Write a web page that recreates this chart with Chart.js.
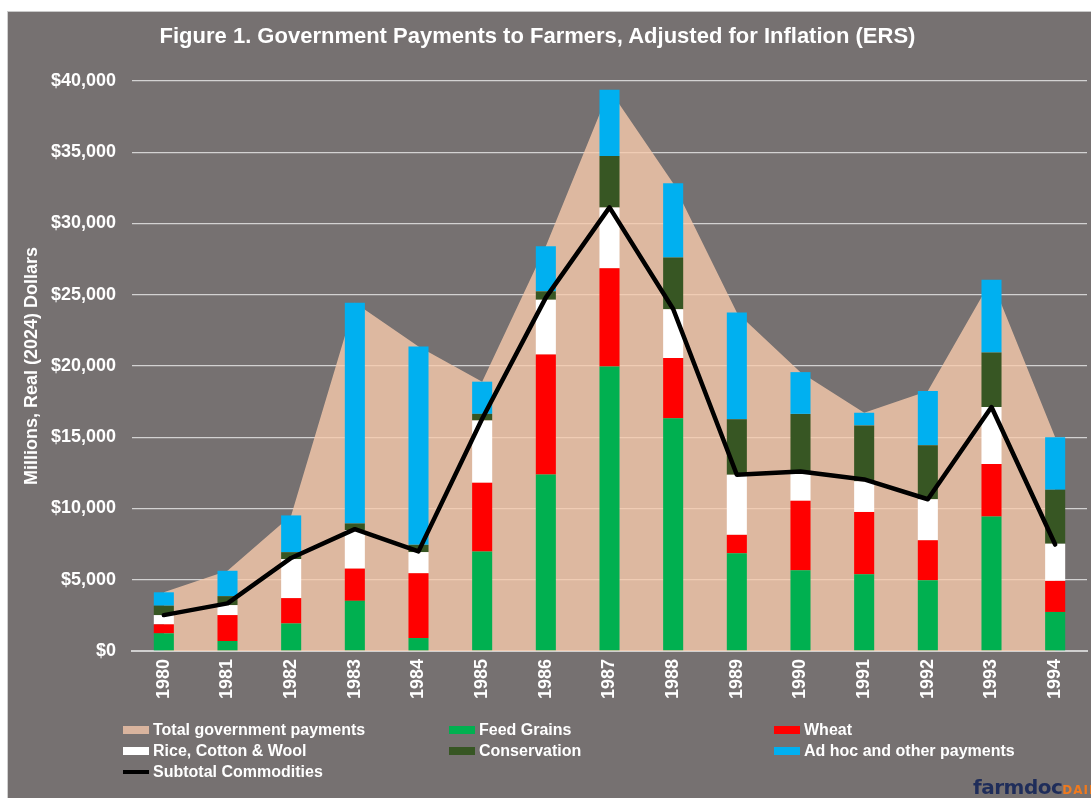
<!DOCTYPE html>
<html>
<head>
<meta charset="utf-8">
<script src="https://cdn.jsdelivr.net/npm/chart.js@4.4.1/dist/chart.umd.min.js"></script>
<style>
  html, body { margin: 0; padding: 0; background: #ffffff; width: 1091px; height: 798px; overflow: hidden; }
  #panel { position: absolute; left: 7px; top: 11px; width: 1084px; height: 787px; background: #767171;
           border-top: 1px solid #c9c9c9; border-left: 1px solid #d0d0d0; box-sizing: border-box; }
  #chart { position: absolute; left: 0; top: 0; }
  #title { position: absolute; left: 0; width: 1075px; top: 23px; text-align: center; color: #ffffff;
           font: bold 22px "Liberation Sans", Arial, sans-serif; white-space: nowrap; }
  #legend { position: absolute; left: 0; top: 0; font: bold 16px "Liberation Sans", Arial, sans-serif; color: #ffffff; }
  .item { position: absolute; white-space: nowrap; line-height: 18px; height: 18px; }
  .sw { position: absolute; left: 0; top: 5px; width: 26px; height: 8px; }
  .sw.line { top: 7px; height: 4px; }
  .lbl { position: absolute; left: 30px; top: 0; }
  #logo { position: absolute; left: 973px; top: 775px; white-space: nowrap; }
  #logo .a { font: bold 20px "DejaVu Sans", sans-serif; color: #1f2d5a; letter-spacing: -0.5px; }
  #logo .b { font: bold 12px "DejaVu Sans", sans-serif; color: #f07a1e; letter-spacing: 1px; }
</style>
</head>
<body>
<div id="panel"></div>
<canvas id="chart" width="1091" height="798"></canvas>
<div id="title">Figure 1. Government Payments to Farmers, Adjusted for Inflation (ERS)</div>
<div id="legend"></div>
<div id="logo"><span class="a">farmdoc</span><span class="b">DAILY</span></div>
<script>
// ---- Data (millions of real 2024 dollars) ----
const years = ['1980','1981','1982','1983','1984','1985','1986','1987','1988','1989','1990','1991','1992','1993','1994'];
const feedGrains   = [1240,  700, 1935, 3520,   910,  6990, 12390, 19970, 16340, 6860, 5670, 5380, 4970, 9440, 2740];
const wheat        = [ 630, 1820, 1775, 2260,  4550,  4810,  8420,  6890,  4220, 1290, 4870, 4380, 2800, 3680, 2180];
const riceCotton   = [ 650,  700, 2740, 2690,  1480,  4380,  3840,  4270,  3420, 4220, 2060, 2150, 2880, 4000, 2610];
const conservation = [ 660,  630,  485,  480,   510,   460,   590,  3600,  3630, 3890, 4040, 3920, 3790, 3820, 3790];
const adHoc        = [ 940, 1780, 2580, 15485, 13920, 2260,  3170,  4650,  5210, 7500, 2930,  890, 3810, 5110, 3680];
const totalPayments = [4120, 5630, 9515, 24435, 21370, 18900, 28410, 39380, 32820, 23760, 19570, 16720, 18250, 26050, 15000];
const subtotalCommodities = [2520, 3340, 6530, 8550, 6990, 16300, 24800, 31130, 24000, 12370, 12600, 12040, 10650, 17120, 7470];
const yTicks = [0, 5000, 10000, 15000, 20000, 25000, 30000, 35000, 40000];

const FONT = '"Liberation Sans", Arial, sans-serif';
const colors = {
  total: 'rgba(248,203,173,0.80)', totalSwatch: '#d9b49e',
  feed: '#00b050', wheat: '#ff0000', rice: '#ffffff', cons: '#375623', adhoc: '#00b0f0', sub: '#000000'
};

function bar(label, data, color) {
  return { type: 'bar', label, data, backgroundColor: color, borderWidth: 0, stack: 'bars', order: 2,
           barPercentage: 0.315, categoryPercentage: 1.0 };
}

const datasets = [
  { type: 'line', label: 'Total government payments', data: totalPayments, stack: 'area', order: 3,
    fill: 'origin', backgroundColor: colors.total, borderWidth: 0, borderColor: 'rgba(0,0,0,0)',
    pointRadius: 0, tension: 0 },
  bar('Feed Grains', feedGrains, colors.feed),
  bar('Wheat', wheat, colors.wheat),
  bar('Rice, Cotton & Wool', riceCotton, colors.rice),
  bar('Conservation', conservation, colors.cons),
  bar('Ad hoc and other payments', adHoc, colors.adhoc),
  { type: 'line', label: 'Subtotal Commodities', data: subtotalCommodities, stack: 'sub', order: 1,
    fill: false, borderColor: colors.sub, borderWidth: 4.5, pointRadius: 0, tension: 0,
    borderJoinStyle: 'round', borderCapStyle: 'round' }
];

new Chart(document.getElementById('chart'), {
  data: { labels: years, datasets },
  options: {
    responsive: false, animation: false, devicePixelRatio: 1,
    layout: { padding: { top: 81, left: 0, right: 4, bottom: 0 } },
    plugins: { legend: { display: false }, tooltip: { enabled: false }, title: { display: false } },
    scales: {
      x: {
        stacked: true, offset: true,
        grid: { display: false, drawTicks: false },
        border: { display: true, color: '#d0cfcf', width: 2 },
        ticks: { color: '#ffffff', font: { family: FONT, size: 18, weight: 'bold' },
                 minRotation: 90, maxRotation: 90, padding: 8, autoSkip: false },
        afterFit: s => { s.height = 147; }
      },
      y: {
        stacked: true, min: 0, max: 40000,
        afterBuildTicks: s => { s.ticks = yTicks.map(v => ({ value: v })); },
        grid: { color: '#d3d2d2', lineWidth: 1.3, drawTicks: false },
        border: { display: false },
        ticks: { color: '#ffffff', font: { family: FONT, size: 18, weight: 'bold' }, padding: 16,
                 callback: v => '$' + Number(v).toLocaleString('en-US') },
        title: { display: true, text: 'Millions, Real (2024) Dollars', color: '#ffffff',
                 font: { family: FONT, size: 18, weight: 'bold' }, padding: { top: 21, bottom: 0 } },
        afterFit: s => { s.width = 132; }
      }
    }
  }
});

// ---- HTML legend in three columns, built from the dataset list ----
const legendItems = [
  { label: datasets[0].label, color: colors.totalSwatch, line: false },
  { label: datasets[1].label, color: colors.feed, line: false },
  { label: datasets[2].label, color: colors.wheat, line: false },
  { label: datasets[3].label, color: colors.rice, line: false },
  { label: datasets[4].label, color: colors.cons, line: false },
  { label: datasets[5].label, color: colors.adhoc, line: false },
  { label: datasets[6].label, color: colors.sub, line: true }
];
const colX = [123, 449, 774];
const rowY = [721, 742, 763];
const leg = document.getElementById('legend');
legendItems.forEach((it, i) => {
  const d = document.createElement('div');
  d.className = 'item';
  d.style.left = colX[i % 3] + 'px';
  d.style.top = rowY[Math.floor(i / 3)] + 'px';
  const sw = document.createElement('span');
  sw.className = 'sw' + (it.line ? ' line' : '');
  sw.style.background = it.color;
  const t = document.createElement('span');
  t.className = 'lbl';
  t.textContent = it.label;
  d.appendChild(sw); d.appendChild(t);
  leg.appendChild(d);
});
</script>
</body>
</html>
